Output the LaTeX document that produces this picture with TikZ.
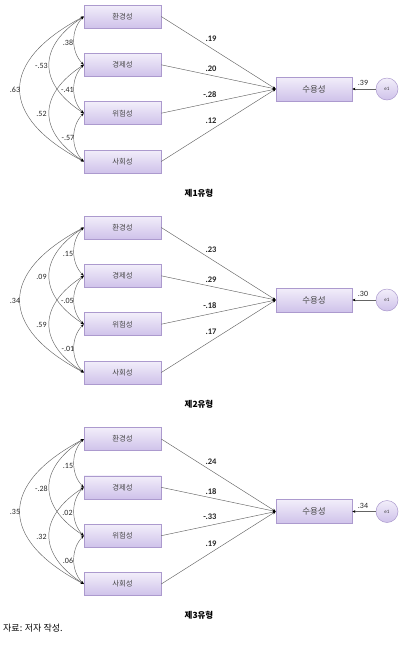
\documentclass[tikz,border=0pt]{standalone}
\usepackage{fontspec}
\setmainfont{Carlito}
\newfontfamily\kr{Noto Sans CJK KR}
\usetikzlibrary{arrows.meta}
\definecolor{boxtop}{RGB}{242,238,250}
\definecolor{boxbot}{RGB}{207,194,234}
\definecolor{boxline}{RGB}{172,154,206}
\definecolor{lin}{RGB}{100,100,100}
\begin{document}
\begin{tikzpicture}[x=1pt,y=-1pt,
  lbox/.style={draw=boxline, line width=0.5pt, top color=boxtop, bottom color=boxbot,
    minimum width=77pt, minimum height=23pt, inner sep=0pt,
    font=\kr\fontsize{7.4}{8}\selectfont, text=black!72},
  rbox/.style={lbox, minimum width=76pt, minimum height=24pt, font=\kr\fontsize{8.5}{9}\selectfont},
  ecirc/.style={circle, draw=boxline, line width=0.5pt, top color=boxtop, bottom color=boxbot,
    minimum size=22pt, inner sep=0pt, font=\fontsize{5}{6}\selectfont, text=black!80},
  dbl/.style={{Stealth[length=3.2pt,width=2.6pt,color=black]}-{Stealth[length=3.2pt,width=2.6pt,color=black]}, draw=lin, line width=0.45pt},
  sar/.style={-{Stealth[length=3.2pt,width=2.6pt,color=black]}, draw=lin, line width=0.45pt},
  llab/.style={font=\fontsize{8}{9}\selectfont, text=black!85, inner sep=0pt},
  rlab/.style={font=\bfseries\fontsize{8.5}{9}\selectfont, text=black!85, inner sep=0pt},
  ttl/.style={font=\kr\bfseries\fontsize{8.5}{9}\selectfont, inner sep=0pt}
]
\useasboundingbox (0,0) rectangle (407,649);
\foreach \n/\m/\tl/\la/\lb/\lc/\ld/\le/\lf/\ra/\rb/\rc/\rd/\re in {
 1/89/제1유형/.38/-.53/.63/-.41/.52/-.57/.19/.20/-.28/.12/.39,
 2/300/제2유형/.15/.09/.34/-.05/.59/-.01/.23/.29/-.18/.17/.30,
 3/511.5/제3유형/.15/-.28/.35/.02/.32/.06/.24/.18/-.33/.19/.34}{
  \node[lbox] (a\n1) at (122.5,\m-72.5) {환경성};
  \node[lbox] (a\n2) at (122.5,\m-24.2) {경제성};
  \node[lbox] (a\n3) at (122.5,\m+24.2) {위험성};
  \node[lbox] (a\n4) at (122.5,\m+72.5) {사회성};
  \node[rbox] (r\n) at (314,\m) {수용성};
  \node[ecirc] (e\n) at (387,\m) {e1};
  % covariances
  \draw[dbl] (a\n1.west) .. controls +(-13,13) and +(-13,-13) .. (a\n2.west);
  \draw[dbl] (a\n2.west) .. controls +(-13,13) and +(-13,-13) .. (a\n3.west);
  \draw[dbl] (a\n3.west) .. controls +(-13,13) and +(-13,-13) .. (a\n4.west);
  \draw[dbl] (a\n1.west) .. controls +(-46,30) and +(-46,-30) .. (a\n3.west);
  \draw[dbl] (a\n2.west) .. controls +(-46,30) and +(-46,-30) .. (a\n4.west);
  \draw[dbl] (a\n1.west) .. controls +(-85,45) and +(-85,-45) .. (a\n4.west);
  \node[llab] (ka\n) at (68,\m-46) {\la};
  \node[llab] (kb\n) at (41.5,\m-23) {\lb};
  \node[llab] (kc\n) at (15,\m+0.5) {\lc};
  \node[llab] (kd\n) at (67.5,\m+1) {\ld};
  \node[llab] (ke\n) at (41.5,\m+25) {\le};
  \node[llab] (kf\n) at (68,\m+49) {\lf};
  % paths
  \draw[sar] (a\n1.east) -- (r\n.west);
  \draw[sar] (a\n2.east) -- (r\n.west);
  \draw[sar] (a\n3.east) -- (r\n.west);
  \draw[sar] (a\n4.east) -- (r\n.west);
  \node[rlab] (pa\n) at (211,\m-50) {\ra};
  \node[rlab] (pb\n) at (211,\m-20.3) {\rb};
  \node[rlab] (pc\n) at (210,\m+5.7) {\rc};
  \node[rlab] (pd\n) at (211,\m+32) {\rd};
  \draw[sar] (e\n) -- (r\n.east);
  \node[llab] (pe\n) at (363,\m-6) {\re};
  \node[ttl] (t\n) at (199,\m+104) {\tl};
}
\node[anchor=west, font=\kr\fontsize{9}{10}\selectfont, inner sep=0pt] (src) at (3,628) {자료: 저자 작성.};
\end{tikzpicture}
\end{document}
